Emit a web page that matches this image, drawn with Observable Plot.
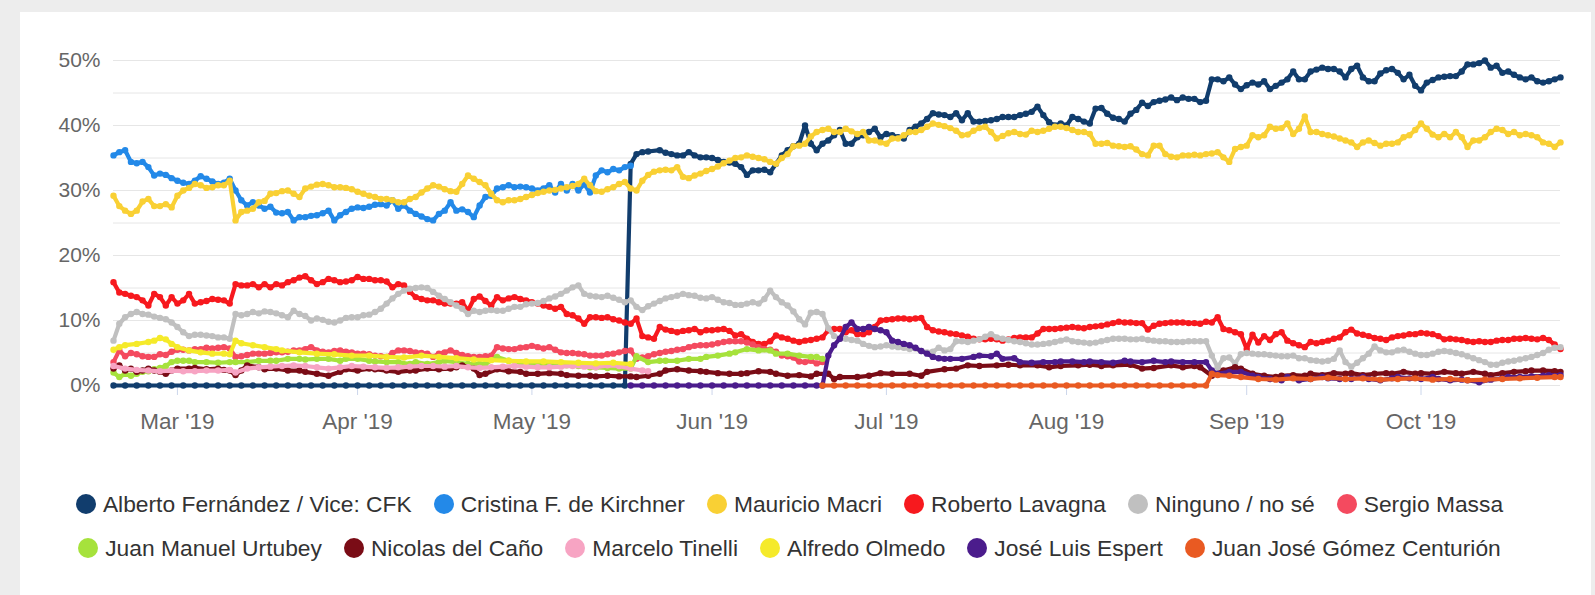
<!DOCTYPE html>
<html>
<head>
<meta charset="utf-8">
<script src="https://cdn.jsdelivr.net/npm/d3@7"></script>
<script src="https://cdn.jsdelivr.net/npm/@observablehq/plot@0.6"></script>
<style>
html,body{margin:0;padding:0;background:#ededed;width:1595px;height:595px;overflow:hidden;font-family:"Liberation Sans",Arial,sans-serif;}
#panel{position:absolute;left:20px;top:12px;width:1571px;height:583px;background:#ffffff;}
#chart{position:absolute;left:0;top:0;}
.legend-row{position:absolute;left:0;width:1579px;height:30px;display:flex;justify-content:center;align-items:center;}
.item{display:flex;align-items:center;margin:0 11px;font-size:22.8px;color:#333333;white-space:nowrap;}
.sw{width:20px;height:20px;border-radius:50%;margin-right:7px;flex:none;}
</style>
</head>
<body>
<div id="panel"></div>
<div id="chart"></div>
<div id="legend"></div>
<script>
// ---- data: [days since 18 Feb 2019, percent] ----
const START = "2019-02-18";
const END_DAY = 249;

const fernandez = [[0,0],[2,0],[4,0],[6,0],[8,0],[10,0],[12,0],[14,0],[16,0],[18,0],[20,0],[22,0],[24,0],[26,0],[28,0],[30,0],[32,0],[34,0],[36,0],[38,0],[40,0],[42,0],[44,0],[46,0],[48,0],[50,0],[52,0],[54,0],[56,0],[58,0],[60,0],[62,0],[64,0],[66,0],[68,0],[70,0],[72,0],[74,0],[76,0],[78,0],[80,0],[82,0],[84,0],[86,0],[88,0],
[89,34.1],[90,35.6],[91,35.9],[92,36.0],[94,36.2],[95,35.8],[96,35.6],[97,35.4],[98,35.4],[99,35.9],[100,35.4],[101,35.1],[102,35.1],[103,35.0],[104,34.7],[105,34.4],[106,34.3],[107,34.1],[108,33.6],[109,32.4],[110,33.1],[111,33.1],[112,33.2],[113,32.8],[114,34.1],[115,35.4],[116,36.2],[117,36.8],[118,37.2],[119,40.0],[120,37.2],[121,36.2],[122,37.2],[123,37.7],[124,38.5],[125,39.3],[126,37.2],[127,37.2],[128,38.2],[129,38.5],[130,39.0],[131,39.5],[132,38.2],[133,38.7],[134,38.5],[135,38.2],[136,38.0],[137,39.3],[138,39.8],[139,40.3],[140,41.0],[141,41.9],[142,41.7],[143,41.6],[144,41.3],[145,41.9],[146,40.8],[147,41.9],[148,40.6],[149,40.6],[150,40.7],[151,40.8],[152,41.0],[153,41.3],[154,41.3],[155,41.3],[156,41.6],[157,41.8],[158,42.1],[159,42.9],[160,41.6],[161,40.5],[162,40.0],[163,40.3],[164,40.0],[165,41.3],[166,41.0],[167,40.6],[168,40.3],[169,42.6],[170,42.7],[171,41.8],[172,41.2],[173,41.0],[174,40.6],[175,41.8],[176,42.4],[177,43.5],[178,43.0],[179,43.6],[180,43.8],[181,44.0],[182,44.3],[183,43.9],[184,44.3],[185,44.1],[186,44.1],[187,43.6],[188,43.8],[189,47.1],[190,47.1],[191,46.8],[192,47.4],[193,46.3],[194,45.6],[195,46.2],[196,46.6],[197,46.3],[198,46.8],[199,45.6],[200,46.1],[201,46.6],[202,47.1],[203,48.3],[204,47.1],[205,47.1],[206,48.3],[207,48.6],[208,48.9],[209,48.7],[210,48.7],[211,48.3],[212,47.4],[213,48.7],[214,49.2],[215,47.4],[216,46.8],[217,46.8],[218,48.0],[219,48.5],[220,48.7],[221,48.1],[222,47.1],[223,47.8],[224,46.1],[225,45.4],[226,46.6],[227,47.0],[228,47.4],[229,47.5],[230,47.6],[231,47.6],[232,48.3],[233,49.4],[234,49.4],[235,49.6],[236,50.0],[237,48.9],[238,49.2],[239,48.1],[240,48.3],[241,47.8],[242,47.4],[243,47.1],[244,47.4],[245,46.8],[246,46.6],[247,46.8],[248,47.1],[249,47.4]];

const kirchner = [[0,35.4],[1,35.9],[2,36.2],[3,34.4],[4,34.2],[5,34.4],[6,33.6],[7,32.3],[8,32.6],[9,32.4],[10,31.9],[11,31.5],[12,31.2],[13,31.0],[14,31.5],[15,32.2],[16,31.8],[17,31.4],[18,31.0],[19,31.2],[20,31.8],[21,30.0],[22,28.5],[23,27.7],[24,28.2],[25,27.7],[26,27.2],[27,27.5],[28,26.6],[29,26.5],[30,26.7],[31,25.4],[32,25.9],[33,25.9],[34,26.1],[35,26.2],[36,26.5],[37,26.9],[38,25.4],[39,26.2],[40,26.7],[41,27.2],[42,27.4],[43,27.3],[44,27.5],[45,27.8],[46,27.9],[47,27.7],[48,28.5],[49,27.2],[50,27.7],[51,26.9],[52,26.4],[53,26.0],[54,25.6],[55,25.4],[56,26.4],[57,26.9],[58,28.2],[59,26.9],[60,27.1],[61,26.7],[62,25.9],[63,27.7],[64,29.0],[65,29.2],[66,30.3],[67,30.5],[68,30.8],[69,30.5],[70,30.6],[71,30.5],[72,30.3],[73,30.0],[74,30.3],[75,30.8],[76,29.7],[77,31.0],[78,30.0],[79,31.0],[80,30.0],[81,31.0],[82,29.7],[83,32.3],[84,33.1],[85,32.8],[86,33.3],[87,33.1],[88,33.6],[89,33.8]];

const macri = [[0,29.2],[1,27.6],[2,26.9],[3,26.4],[4,26.9],[5,28.3],[6,28.7],[7,27.6],[8,27.6],[9,27.9],[10,27.4],[11,29.2],[12,30.0],[13,30.4],[14,31.0],[15,30.8],[16,30.4],[17,30.5],[18,30.8],[19,30.8],[20,31.5],[21,25.4],[22,26.7],[23,26.9],[24,27.2],[25,28.2],[26,28.4],[27,29.5],[28,29.6],[29,29.9],[30,30.0],[31,29.5],[32,29.0],[33,30.3],[34,30.6],[35,30.9],[36,31.0],[37,30.8],[38,30.5],[39,30.5],[40,30.4],[41,30.2],[42,29.8],[43,29.5],[44,29.2],[45,29.0],[46,28.7],[47,28.7],[48,28.5],[49,28.2],[50,28.2],[51,28.7],[52,29.0],[53,29.7],[54,30.3],[55,30.8],[56,30.6],[57,30.2],[58,29.9],[59,29.8],[60,31.0],[61,32.3],[62,31.8],[63,31.3],[64,30.8],[65,29.5],[66,28.5],[67,28.2],[68,28.5],[69,28.5],[70,28.7],[71,29.0],[72,29.3],[73,29.6],[74,29.8],[75,30.0],[76,30.1],[77,30.3],[78,30.5],[79,30.7],[80,31.0],[81,31.8],[82,30.8],[83,29.9],[84,29.8],[85,30.2],[86,30.5],[87,31.0],[88,31.3],[89,30.3],[90,30.0],[91,31.5],[92,32.4],[93,32.9],[94,33.1],[95,33.2],[96,33.1],[97,33.6],[98,32.1],[99,31.9],[100,32.3],[101,32.6],[102,33.0],[103,33.3],[104,33.7],[105,34.2],[106,34.6],[107,35.0],[108,35.1],[109,35.4],[110,35.2],[111,35.0],[112,34.8],[113,34.4],[114,34.1],[115,35.0],[116,35.6],[117,36.8],[118,36.9],[119,37.2],[120,38.3],[121,39.0],[122,39.3],[123,39.5],[124,39.0],[125,39.0],[126,39.5],[127,39.1],[128,38.7],[129,39.0],[130,37.7],[131,37.7],[132,37.4],[133,37.2],[134,38.0],[135,38.0],[136,38.5],[137,39.0],[138,39.0],[139,39.3],[140,39.8],[141,40.3],[142,40.1],[143,39.9],[144,39.6],[145,39.2],[146,38.5],[147,38.6],[148,39.2],[149,39.6],[150,39.8],[151,39.0],[152,38.0],[153,38.4],[154,38.8],[155,39.0],[156,38.7],[157,38.6],[158,39.2],[159,39.0],[160,39.2],[161,39.5],[162,39.8],[163,39.8],[164,39.6],[165,39.3],[166,39.0],[167,39.0],[168,38.7],[169,37.2],[170,37.2],[171,37.3],[172,36.9],[173,36.8],[174,36.7],[175,36.8],[176,36.3],[177,35.6],[178,35.4],[179,36.9],[180,36.9],[181,35.6],[182,35.2],[183,35.1],[184,35.4],[185,35.4],[186,35.5],[187,35.4],[188,35.6],[189,35.7],[190,35.9],[191,35.1],[192,34.4],[193,36.4],[194,36.7],[195,36.9],[196,38.5],[197,38.2],[198,38.5],[199,39.8],[200,39.5],[201,39.6],[202,40.3],[203,38.7],[204,39.5],[205,41.4],[206,39.0],[207,39.0],[208,38.7],[209,38.5],[210,38.3],[211,38.0],[212,37.7],[213,37.4],[214,36.7],[215,37.4],[216,37.7],[217,37.3],[218,36.9],[219,37.2],[220,37.2],[221,37.4],[222,38.2],[223,38.5],[224,39.3],[225,40.3],[226,39.5],[227,38.6],[228,38.2],[229,38.7],[230,38.2],[231,39.0],[232,38.2],[233,36.7],[234,37.7],[235,37.7],[236,38.2],[237,39.0],[238,39.5],[239,39.3],[240,38.7],[241,39.0],[242,38.5],[243,38.7],[244,38.5],[245,38.2],[246,37.4],[247,37.2],[248,36.7],[249,37.4]];

const lavagna = [[0,15.9],[1,14.3],[2,14.1],[3,13.8],[4,13.6],[5,13.1],[6,12.3],[7,14.1],[8,13.6],[9,12.3],[10,13.6],[11,12.6],[12,13.1],[13,14.1],[14,12.6],[15,12.8],[16,13.0],[17,13.3],[18,13.2],[19,13.1],[20,12.6],[21,15.6],[22,15.4],[23,15.4],[24,15.6],[25,15.1],[26,15.6],[27,15.1],[28,15.6],[29,15.4],[30,15.9],[31,16.2],[32,16.6],[33,16.8],[34,16.2],[35,15.6],[36,15.9],[37,16.4],[38,16.2],[39,15.9],[40,16.0],[41,16.2],[42,16.7],[43,16.4],[44,16.4],[45,16.2],[46,16.2],[47,16.0],[48,15.1],[49,15.6],[50,15.4],[51,14.4],[52,13.6],[53,13.3],[54,13.1],[55,13.1],[56,12.8],[57,12.6],[58,12.6],[59,12.6],[60,12.8],[61,11.5],[62,13.3],[63,13.7],[64,13.0],[65,12.3],[66,13.6],[67,13.1],[68,13.4],[69,13.6],[70,13.3],[71,13.1],[72,12.8],[73,12.6],[74,12.3],[75,12.1],[76,11.8],[77,12.1],[78,11.0],[79,10.8],[80,10.3],[81,9.5],[82,10.5],[83,10.5],[84,10.4],[85,10.5],[86,10.2],[87,10.0],[88,9.7],[89,9.5],[90,10.3],[91,7.6],[92,7.4],[93,7.2],[94,9.0],[95,8.6],[96,8.4],[97,8.2],[98,8.4],[99,8.5],[100,8.7],[101,8.2],[102,8.5],[103,8.5],[104,8.6],[105,8.7],[106,8.4],[107,7.7],[108,7.9],[109,7.2],[110,6.7],[111,6.4],[112,6.4],[113,6.8],[114,7.7],[115,7.4],[116,7.2],[117,6.9],[118,6.7],[119,6.9],[120,7.0],[121,7.2],[122,7.4],[123,8.5],[124,8.7],[125,8.7],[126,8.2],[127,8.5],[128,7.9],[129,7.9],[130,8.2],[131,9.0],[132,10.0],[133,10.1],[134,10.2],[135,10.3],[136,10.3],[137,10.2],[138,10.3],[139,10.4],[140,9.0],[141,8.5],[142,8.3],[143,8.2],[144,8.0],[145,7.9],[146,7.7],[147,7.5],[148,7.2],[149,7.1],[150,7.1],[151,7.2],[152,7.1],[153,6.9],[154,7.1],[155,7.3],[156,7.4],[157,7.4],[158,7.4],[159,8.0],[160,8.7],[161,8.7],[162,8.7],[163,8.8],[164,8.9],[165,9.0],[166,8.9],[167,8.8],[168,9.0],[169,9.1],[170,9.2],[171,9.4],[172,9.6],[173,9.8],[174,9.7],[175,9.7],[176,9.6],[177,9.6],[178,8.6],[179,9.2],[180,9.5],[181,9.6],[182,9.7],[183,9.7],[184,9.7],[185,9.6],[186,9.6],[187,9.5],[188,9.8],[189,9.7],[190,10.5],[191,8.7],[192,8.5],[193,8.2],[194,7.9],[195,5.6],[196,7.8],[197,6.6],[198,7.6],[199,7.0],[200,7.9],[201,8.2],[202,6.9],[203,6.5],[204,6.2],[205,5.9],[206,6.7],[207,6.5],[208,6.7],[209,6.9],[210,7.2],[211,7.4],[212,8.2],[213,8.6],[214,8.0],[215,7.8],[216,7.6],[217,7.3],[218,7.2],[219,7.0],[220,7.4],[221,7.6],[222,7.7],[223,7.9],[224,7.9],[225,8.1],[226,8.0],[227,7.9],[228,7.6],[229,7.1],[230,7.2],[231,7.1],[232,7.0],[233,6.8],[234,6.7],[235,6.8],[236,6.7],[237,6.7],[238,6.9],[239,7.0],[240,7.0],[241,7.2],[242,7.2],[243,7.3],[244,7.2],[245,7.1],[246,7.3],[247,7.0],[248,6.3],[249,5.6]];

const ninguno = [[0,6.9],[1,9.5],[2,10.5],[3,11.0],[4,11.3],[5,11.0],[6,10.9],[7,10.6],[8,10.4],[9,10.2],[10,9.7],[11,9.0],[12,8.2],[13,7.6],[14,7.8],[15,7.8],[16,7.7],[17,7.6],[18,7.4],[19,7.4],[20,7.2],[21,11.0],[22,10.8],[23,11.0],[24,11.3],[25,11.1],[26,11.4],[27,11.3],[28,11.1],[29,10.8],[30,10.5],[31,11.5],[32,11.0],[33,10.7],[34,10.0],[35,10.3],[36,10.1],[37,9.8],[38,9.7],[39,10.0],[40,10.4],[41,10.5],[42,10.5],[43,10.8],[44,10.9],[45,11.3],[46,11.8],[47,12.6],[48,13.4],[49,14.1],[50,14.6],[51,14.9],[52,15.0],[53,15.1],[54,15.0],[55,14.4],[56,13.8],[57,13.3],[58,12.8],[59,12.3],[60,11.8],[61,11.0],[62,11.5],[63,11.3],[64,11.5],[65,11.6],[66,11.5],[67,11.5],[68,11.8],[69,12.1],[70,12.1],[71,12.5],[72,12.6],[73,12.7],[74,13.0],[75,13.4],[76,13.7],[77,14.1],[78,14.6],[79,15.1],[80,15.4],[81,14.1],[82,13.8],[83,13.7],[84,13.6],[85,13.8],[86,13.5],[87,13.2],[88,12.8],[89,13.1],[90,12.1],[91,11.6],[92,12.2],[93,12.6],[94,13.0],[95,13.4],[96,13.6],[97,13.8],[98,14.1],[99,13.9],[100,13.8],[101,13.5],[102,13.4],[103,13.6],[104,13.2],[105,12.8],[106,12.7],[107,12.4],[108,12.4],[109,12.6],[110,12.8],[111,12.6],[112,13.3],[113,14.6],[114,13.6],[115,12.8],[116,12.3],[117,11.4],[118,10.2],[119,9.4],[120,11.2],[121,11.3],[122,11.0],[123,8.8],[124,7.6],[125,7.2],[126,7.2],[127,7.0],[128,6.9],[129,6.4],[130,6.1],[131,5.9],[132,6.0],[133,6.2],[134,6.0],[135,5.9],[136,5.8],[137,5.6],[138,5.7],[139,5.3],[140,5.1],[141,5.2],[142,5.8],[143,5.4],[144,5.6],[145,6.8],[146,6.8],[147,6.7],[148,6.9],[149,7.1],[150,7.5],[151,7.9],[152,7.4],[153,7.2],[154,7.0],[155,6.8],[156,6.7],[157,6.5],[158,6.3],[159,6.3],[160,6.4],[161,6.5],[162,6.7],[163,6.9],[164,7.1],[165,6.8],[166,6.7],[167,6.6],[168,6.5],[169,6.6],[170,6.8],[171,7.0],[172,7.2],[173,7.2],[174,7.2],[175,7.1],[176,7.1],[177,7.2],[178,7.0],[179,6.9],[180,6.8],[181,6.8],[182,6.7],[183,6.7],[184,6.7],[185,6.8],[186,6.8],[187,6.8],[188,6.8],[189,4.6],[190,2.8],[191,4.2],[192,4.3],[193,3.4],[194,4.8],[195,5.0],[196,4.9],[197,4.8],[198,4.8],[199,4.7],[200,4.6],[201,4.5],[202,4.5],[203,4.6],[204,4.2],[205,4.2],[206,3.9],[207,3.8],[208,3.7],[209,3.8],[210,4.1],[211,5.4],[212,3.6],[213,2.9],[214,3.5],[215,4.2],[216,4.9],[217,6.0],[218,5.4],[219,5.1],[220,5.1],[221,5.4],[222,5.5],[223,5.2],[224,4.9],[225,4.7],[226,4.7],[227,4.9],[228,5.2],[229,5.3],[230,5.2],[231,5.0],[232,4.8],[233,4.5],[234,4.2],[235,3.9],[236,3.6],[237,3.2],[238,3.2],[239,3.5],[240,3.7],[241,3.8],[242,4.0],[243,4.2],[244,4.4],[245,4.7],[246,5.0],[247,5.5],[248,5.8],[249,5.9]];

const massa = [[0,3.6],[1,5.4],[2,4.5],[3,5.0],[4,4.8],[5,4.5],[6,4.4],[7,4.4],[8,4.8],[9,4.7],[10,5.2],[11,5.5],[12,5.5],[13,5.4],[14,5.6],[15,5.6],[16,5.8],[17,5.7],[18,5.8],[19,5.9],[20,5.7],[21,4.4],[22,4.5],[23,4.7],[24,4.9],[25,4.9],[26,4.9],[27,5.0],[28,5.1],[29,5.1],[30,5.2],[31,5.4],[32,5.4],[33,5.6],[34,5.9],[35,5.4],[36,5.2],[37,5.1],[38,5.3],[39,5.4],[40,5.2],[41,5.1],[42,4.9],[43,4.9],[44,4.8],[45,4.6],[46,4.5],[47,4.4],[48,5.0],[49,5.4],[50,5.4],[51,5.3],[52,5.1],[53,5.0],[54,4.9],[55,4.4],[56,4.9],[57,5.1],[58,5.4],[59,5.0],[60,4.7],[61,4.5],[62,4.4],[63,4.4],[64,4.5],[65,4.6],[66,5.9],[67,5.7],[68,5.6],[69,5.6],[70,5.8],[71,5.9],[72,6.1],[73,5.9],[74,5.7],[75,5.9],[76,5.5],[77,5.1],[78,5.0],[79,5.0],[80,4.9],[81,4.8],[82,4.6],[83,4.6],[84,4.6],[85,4.8],[86,4.9],[87,5.1],[88,5.3],[89,5.4],[90,4.1],[91,4.3],[92,4.5],[93,4.8],[94,5.0],[95,5.2],[96,5.3],[97,5.5],[98,5.6],[99,5.9],[100,6.1],[101,6.2],[102,6.2],[103,6.3],[104,6.5],[105,6.7],[106,6.8],[107,6.8],[108,6.8],[109,6.6],[110,6.3],[111,5.9],[112,5.6],[113,5.5],[114,5.2],[115,4.6],[116,4.5],[117,4.3],[118,3.7],[119,3.6],[120,3.8],[121,3.4],[122,3.6]];

const urtubey = [[0,2.0],[1,1.3],[2,1.8],[3,1.5],[4,1.8],[5,2.1],[6,2.2],[7,2.5],[8,2.7],[9,3.0],[10,3.6],[11,3.8],[12,3.8],[13,3.8],[14,3.6],[16,3.6],[18,3.5],[20,3.6],[21,3.6],[23,3.6],[25,3.8],[27,3.8],[28,3.8],[30,4.1],[32,4.1],[33,4.0],[35,4.1],[37,4.1],[39,3.8],[40,4.1],[42,4.1],[44,3.8],[45,3.7],[47,3.6],[49,3.6],[51,3.3],[52,3.6],[54,3.3],[56,3.6],[57,3.8],[59,3.6],[61,3.3],[63,3.3],[64,3.3],[66,4.4],[68,3.8],[70,3.6],[71,3.3],[73,3.2],[75,3.2],[77,3.1],[78,3.1],[80,3.0],[82,2.8],[83,2.8],[85,2.7],[87,2.6],[89,2.6],[90,4.5],[92,3.6],[94,3.8],[95,3.8],[97,3.8],[99,4.1],[101,4.1],[102,4.4],[104,4.6],[106,4.9],[107,5.1],[109,5.6],[111,5.4],[113,5.4],[114,4.9],[116,4.9],[118,4.6],[120,4.4],[121,4.4],[122,4.1]];

const cano = [[0,2.6],[1,3.1],[2,2.3],[3,2.6],[4,2.1],[5,2.3],[6,2.6],[7,2.3],[8,2.1],[9,1.8],[10,2.3],[11,2.6],[13,2.6],[14,2.7],[16,2.5],[18,2.6],[19,2.4],[20,2.3],[21,1.6],[22,2.3],[23,3.1],[25,2.8],[26,2.5],[28,2.6],[30,2.3],[32,2.3],[33,2.1],[35,1.8],[37,1.5],[39,2.1],[40,2.5],[42,2.3],[44,2.6],[45,2.5],[47,2.3],[49,2.1],[51,2.3],[52,2.3],[54,2.6],[56,2.5],[58,2.6],[59,2.8],[60,3.1],[62,2.6],[63,1.6],[64,1.8],[66,2.5],[68,2.2],[70,2.1],[71,1.8],[73,1.8],[75,1.9],[77,1.8],[78,1.6],[80,1.5],[82,1.5],[83,1.4],[85,1.5],[87,1.4],[89,1.4],[90,1.3],[92,1.5],[94,1.8],[95,2.3],[97,2.5],[99,2.3],[101,2.2],[102,2.1],[104,1.9],[106,1.8],[108,1.8],[109,1.9],[111,2.2],[113,2.1],[114,1.8],[116,1.5],[118,1.6],[120,1.4],[121,1.8],[123,1.8],[124,1.0],[125,1.3],[128,1.3],[130,1.5],[132,1.9],[134,1.8],[137,1.8],[139,1.5],[140,2.1],[143,2.5],[145,2.6],[147,3.1],[149,3.0],[152,3.1],[154,3.2],[156,3.1],[159,3.1],[161,2.8],[163,3.0],[166,3.1],[168,3.2],[170,3.0],[172,3.1],[175,3.2],[177,2.6],[179,2.7],[182,3.1],[184,2.8],[186,3.0],[187,2.8],[189,1.5],[191,2.3],[193,2.8],[194,2.6],[196,1.8],[198,1.5],[200,1.3],[201,1.5],[203,1.6],[205,1.5],[206,1.8],[208,1.6],[210,1.9],[212,1.8],[213,1.9],[215,1.6],[217,1.8],[219,1.9],[220,1.8],[222,2.1],[224,1.8],[225,1.9],[227,1.8],[229,2.1],[231,1.9],[232,1.8],[234,2.1],[236,1.8],[237,1.6],[239,1.9],[241,2.1],[243,2.2],[244,2.3],[246,2.3],[248,2.2],[249,2.1]];

const tinelli = [[0,3.0],[2,2.6],[4,2.4],[6,2.3],[8,2.2],[10,2.3],[12,2.2],[14,2.2],[16,2.3],[18,2.3],[20,2.4],[21,2.0],[23,2.6],[25,2.8],[27,2.9],[29,3.0],[31,3.1],[33,3.0],[35,2.8],[37,2.6],[39,2.8],[41,3.0],[43,2.9],[45,2.8],[47,2.7],[49,2.8],[51,2.9],[53,3.0],[55,3.0],[57,2.9],[59,3.0],[61,2.8],[63,2.7],[65,2.8],[67,2.9],[69,3.0],[71,2.9],[73,2.8],[75,2.8],[77,2.9],[79,3.0],[81,2.9],[83,2.8],[85,3.1],[87,3.0],[89,2.6],[91,2.3],[92,2.2]];

const olmedo = [[0,5.5],[1,5.9],[2,6.2],[4,6.4],[6,6.7],[7,6.9],[8,7.3],[9,7.1],[10,6.4],[11,5.9],[13,5.4],[15,5.1],[17,4.9],[19,4.9],[20,4.8],[21,6.9],[22,6.5],[24,6.2],[26,5.9],[28,5.6],[29,5.4],[32,5.1],[35,4.9],[38,4.8],[41,4.6],[44,4.6],[47,4.4],[50,4.3],[53,4.6],[56,4.4],[59,4.2],[62,4.0],[65,3.9],[68,3.8],[71,3.7],[74,3.7],[77,3.6],[80,3.5],[83,3.4],[86,3.5],[89,3.3]];

const espert = [[89,0],[91,0],[93,0],[95,0],[97,0],[99,0],[101,0],[103,0],[105,0],[107,0],[109,0],[111,0],[113,0],[115,0],[117,0],[119,0],[121,0],[122,0],
[123,4.6],[124,6.2],[125,7.2],[126,9.0],[127,9.7],[128,8.7],[129,8.7],[130,9.0],[131,8.7],[132,8.5],[133,8.2],[134,6.9],[135,6.7],[136,6.4],[137,6.2],[138,5.8],[139,5.3],[140,4.9],[141,4.4],[142,4.2],[143,4.1],[144,4.1],[146,4.1],[148,4.4],[149,4.6],[151,4.5],[152,4.9],[153,4.1],[155,4.2],[156,3.6],[158,3.5],[160,3.6],[162,3.6],[163,3.7],[165,3.7],[167,3.6],[168,3.7],[170,3.6],[172,3.5],[174,3.8],[175,3.7],[177,3.6],[179,3.8],[181,3.6],[182,3.7],[184,3.6],[186,3.6],[188,3.6],[189,2.3],[190,1.8],[192,2.1],[194,2.1],[196,1.5],[197,1.3],[199,1.0],[201,0.8],[202,1.3],[204,0.8],[206,1.0],[208,1.3],[209,1.1],[211,1.0],[213,1.0],[215,1.3],[216,1.0],[218,0.8],[220,1.1],[221,1.3],[223,1.1],[225,1.0],[227,1.3],[228,1.0],[230,0.8],[232,0.9],[233,0.8],[235,0.5],[237,0.9],[239,1.1],[240,1.3],[242,1.3],[244,1.4],[246,1.5],[247,1.6],[249,1.6]];

const gomez = [[122,0],[124,0],[126,0],[128,0],[130,0],[132,0],[134,0],[136,0],[138,0],[140,0],[142,0],[144,0],[146,0],[148,0],[150,0],[152,0],[154,0],[156,0],[158,0],[160,0],[162,0],[164,0],[166,0],[168,0],[170,0],[172,0],[174,0],[176,0],[178,0],[180,0],[182,0],[184,0],[186,0],[188,0],
[189,1.8],[190,1.6],[192,1.5],[194,1.3],[197,1.0],[200,0.9],[203,1.1],[206,1.0],[209,1.2],[212,1.0],[215,1.1],[218,0.9],[221,1.0],[224,1.1],[227,0.9],[230,1.0],[233,0.8],[236,0.9],[239,1.0],[242,1.1],[245,1.2],[248,1.3],[249,1.3]];

const seriesNames = ["Alberto Fernández / Vice: CFK","Cristina F. de Kirchner","Mauricio Macri","Roberto Lavagna","Ninguno / no sé","Sergio Massa","Juan Manuel Urtubey","Nicolas del Caño","Marcelo Tinelli","Alfredo Olmedo","José Luis Espert","Juan José Gómez Centurión"];
const seriesColors = ["#113d6d","#2389e8","#f9d034","#f7191e","#c0c0c0","#f44a5f","#a6e23c","#7a0c16","#f7a4c3","#f5ea2a","#4b1c8c","#e95a22"];
const seriesData = [fernandez,kirchner,macri,lavagna,ninguno,massa,urtubey,cano,tinelli,olmedo,espert,gomez];

const monthTicks = ["2019-03-01","2019-04-01","2019-05-01","2019-06-01","2019-07-01","2019-08-01","2019-09-01","2019-10-01"];
const yTickValues = [0,10,20,30,40,50];
const gridValues = [0,5,10,15,20,25,30,35,40,45,50];

// ---- build ----
const start = new Date(START + "T00:00:00Z");
const toRows = arr => arr.map(([d, v]) => ({date: d3.utcDay.offset(start, d), value: v}));
const fmtMonth = d3.utcFormat("%b '%y");

const seriesMarks = seriesData.flatMap((arr, i) => {
  const rows = toRows(arr);
  return [
    Plot.line(rows, {x: "date", y: "value", stroke: seriesColors[i], strokeWidth: 4.2, strokeLinejoin: "round", strokeLinecap: "round"}),
    Plot.dot(rows, {x: "date", y: "value", r: 3.2, fill: seriesColors[i], stroke: "none"})
  ];
});

const chart = Plot.plot({
  width: 1595,
  height: 450,
  marginLeft: 113,
  marginRight: 35,
  marginTop: 60,
  marginBottom: 65,
  style: {background: "transparent", fontFamily: "'Liberation Sans', Arial, sans-serif", overflow: "visible"},
  x: {type: "utc", domain: [start, d3.utcDay.offset(start, END_DAY)]},
  y: {domain: [0, 50]},
  marks: [
    Plot.ruleY(gridValues, {stroke: "#e6e6e6", strokeWidth: 1}),
    Plot.axisY({ticks: yTickValues, tickSize: 0, tickPadding: 13, tickFormat: d => d + "%", fontSize: 21, fill: "#666666", label: null}),
    Plot.axisX({ticks: monthTicks.map(s => new Date(s + "T00:00:00Z")), tickSize: 10, tickPadding: 18, tickFormat: d => fmtMonth(d), fontSize: 22.5, fill: "#666666", stroke: "#ccd6eb", label: null}),
    ...seriesMarks
  ]
});
document.getElementById("chart").appendChild(chart);

// ---- legend ----
const legend = document.getElementById("legend");
[[0, 6, 489], [6, 12, 533]].forEach(([a, b, top]) => {
  const row = document.createElement("div");
  row.className = "legend-row";
  row.style.top = top + "px";
  for (let i = a; i < b; i++) {
    const item = document.createElement("div");
    item.className = "item";
    const sw = document.createElement("span");
    sw.className = "sw";
    sw.style.background = seriesColors[i];
    const t = document.createElement("span");
    t.textContent = seriesNames[i];
    item.appendChild(sw);
    item.appendChild(t);
    row.appendChild(item);
  }
  legend.appendChild(row);
});
</script>
</body>
</html>
